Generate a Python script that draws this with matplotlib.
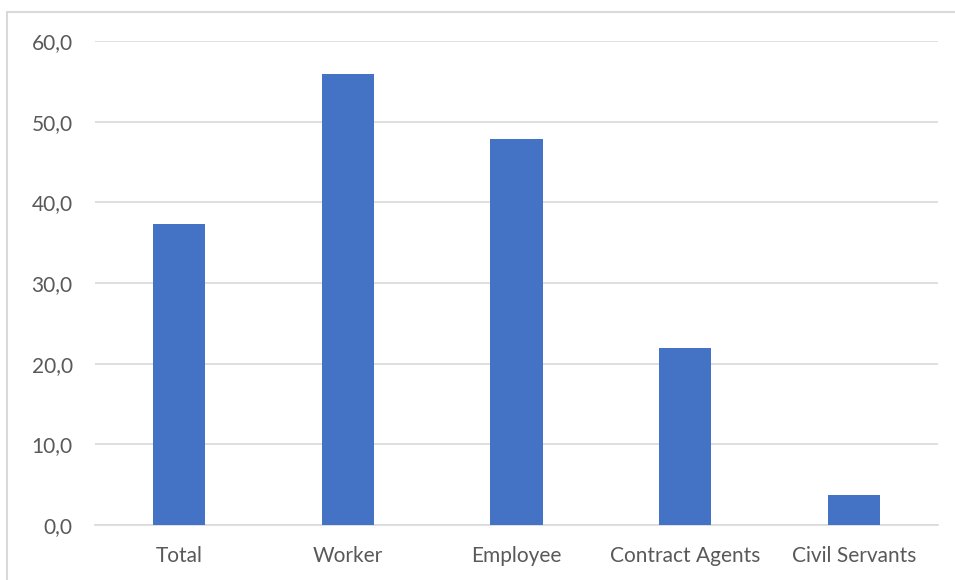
import matplotlib
matplotlib.use("Agg")
import matplotlib.pyplot as plt
from matplotlib.patches import Rectangle

categories = ["Total", "Worker", "Employee", "Contract Agents", "Civil Servants"]
values = [37.3, 55.9, 47.9, 21.9, 3.7]
y_ticks = [0, 10, 20, 30, 40, 50, 60]
y_labels = ["0,0", "10,0", "20,0", "30,0", "40,0", "50,0", "60,0"]

plt.rcParams["font.family"] = ["Lato", "DejaVu Sans"]

fig = plt.figure(figsize=(9.55, 5.8), dpi=100)
ax = fig.add_axes([95 / 955, 1 - 525 / 580, (938 - 95) / 955, (525 - 41) / 580])

# chart border (top and left edges only visible)
fig.patches.append(Rectangle((7 / 955, -0.5), 2, 0.5 + 1 - 12 / 580,
                             transform=fig.transFigure, fill=False,
                             edgecolor="#D9D9D9", linewidth=1.5))

x = range(len(categories))
ax.bar(x, values, width=0.31, color="#4472C4", zorder=3)

ax.set_xlim(-0.5, len(categories) - 0.5)
ax.set_ylim(0, 60)
ax.set_yticks(y_ticks)
ax.set_yticklabels(y_labels)
ax.set_xticks(list(x))
ax.set_xticklabels(categories)

ax.grid(axis="y", color="#D9D9D9", linewidth=1.2, zorder=0)
for s in ["top", "right", "left"]:
    ax.spines[s].set_visible(False)
ax.spines["bottom"].set_color("#D9D9D9")
ax.spines["bottom"].set_linewidth(1.2)
ax.tick_params(axis="both", length=0, labelsize=15, colors="#595959")
ax.tick_params(axis="y", pad=16)
ax.tick_params(axis="x", pad=15)

fig.savefig("out.png", dpi=100)
